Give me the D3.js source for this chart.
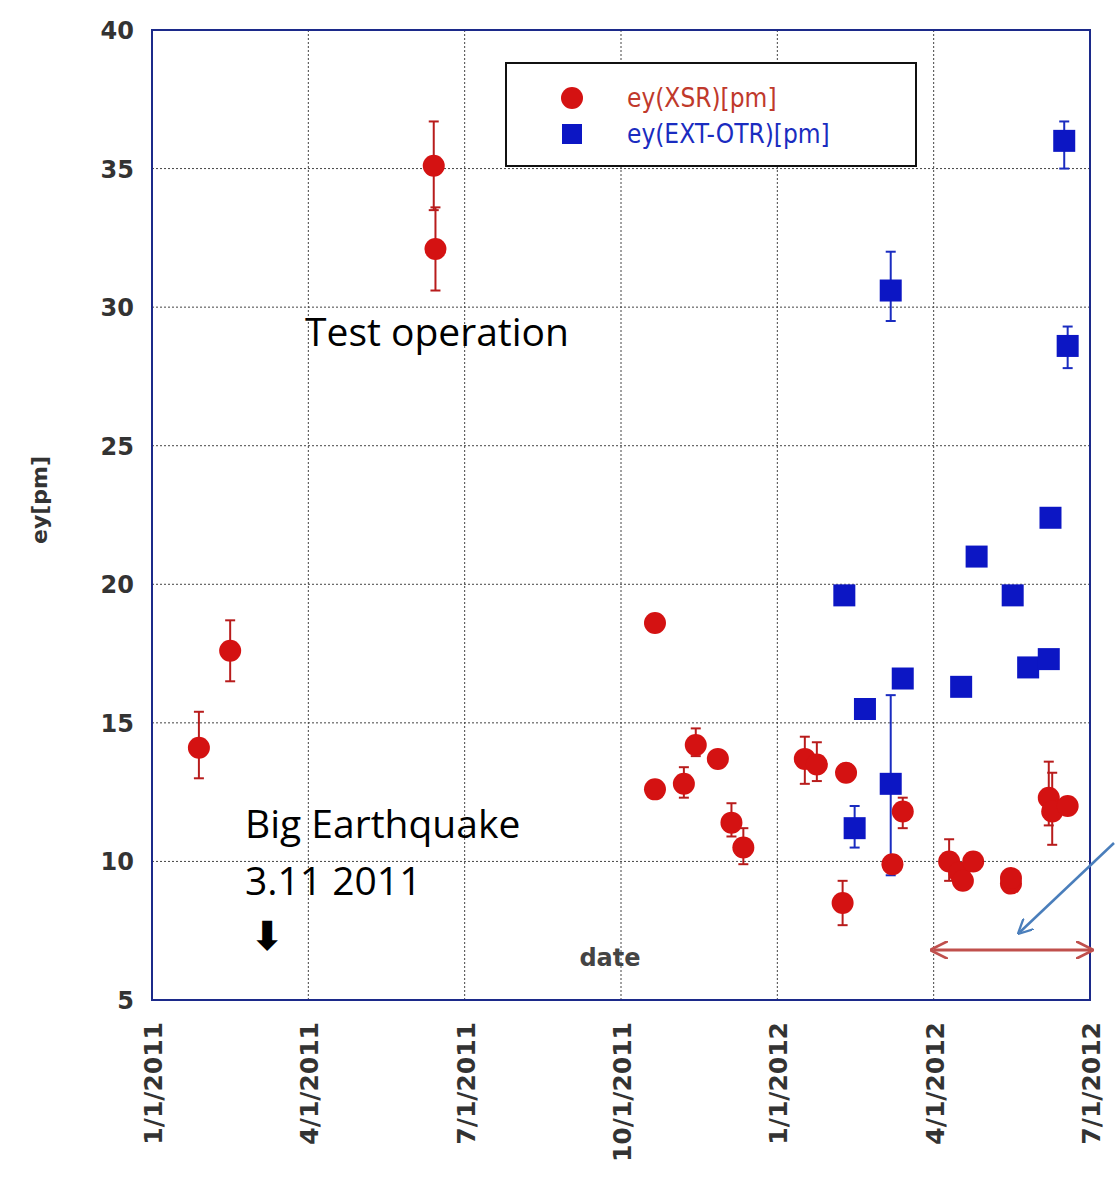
<!DOCTYPE html>
<html><head><meta charset="utf-8">
<script src="https://cdn.jsdelivr.net/npm/d3@7"></script>
<style>body{margin:0;background:#fff}</style>
</head><body>
<svg id="c" width="1115" height="1203"></svg>
<script>
// XSR (red) : date, value, err low, err high
var xsrDates = ["2011-01-28","2011-02-15","2011-06-13","2011-06-14","2011-10-21","2011-10-21","2011-11-07","2011-11-14","2011-11-27","2011-12-05","2011-12-12","2012-01-17","2012-01-24","2012-02-08","2012-02-10","2012-03-08","2012-03-14","2012-04-10","2012-04-16","2012-04-18","2012-04-24","2012-05-16","2012-05-16","2012-06-07","2012-06-09","2012-06-18"]
var xsrVals  = [14.1,17.6,35.1,32.1,18.6,12.6,12.8,14.2,13.7,11.4,10.5,13.7,13.5,8.5,13.2,9.9,11.8,10.0,9.6,9.3,10.0,9.2,9.4,12.3,11.8,12.0]
var xsrLo    = [13.0,16.5,33.5,30.6,18.6,12.6,12.3,13.8,13.7,10.9,9.9,12.8,12.9,7.7,13.2,9.9,11.2,9.3,9.6,9.3,10.0,9.2,9.4,11.3,10.6,12.0]
var xsrHi    = [15.4,18.7,36.7,33.6,18.6,12.6,13.4,14.8,13.7,12.1,11.2,14.5,14.3,9.3,13.2,9.9,12.3,10.8,9.6,9.3,10.0,9.2,9.4,13.6,13.2,12.0]
// EXT-OTR (blue)
var otrDates = ["2012-02-09","2012-02-15","2012-02-21","2012-03-07","2012-03-07","2012-03-14","2012-04-17","2012-04-26","2012-05-17","2012-05-26","2012-06-07","2012-06-08","2012-06-18","2012-06-16"]
var otrVals  = [19.6,11.2,15.5,30.6,12.8,16.6,16.3,21.0,19.6,17.0,17.3,22.4,28.6,36.0]
var otrLo    = [19.6,10.5,15.5,29.5,9.5,16.6,16.3,21.0,19.6,17.0,17.3,22.4,27.8,35.0]
var otrHi    = [19.6,12.0,15.5,32.0,16.0,16.6,16.3,21.0,19.6,17.0,17.3,22.4,29.3,36.7]
var yTicks = [5,10,15,20,25,30,35,40]
var xTicks = ["2011-01-01","2011-04-01","2011-07-01","2011-10-01","2012-01-01","2012-04-01","2012-07-01"]
var xTickLabels = ["1/1/2011","4/1/2011","7/1/2011","10/1/2011","1/1/2012","4/1/2012","7/1/2012"]

var pd = d3.utcParse("%Y-%m-%d")
var svg = d3.select("#c")
var L = 152, R = 1090, T = 30, B = 1000
// quarters are drawn evenly spaced in the original, so use a piecewise time scale
var x = d3.scaleUtc().domain(xTicks.map(pd)).range(xTicks.map(function(d,i){return L + i*(R-L)/6}))
var y = d3.scaleLinear().domain([5,40]).range([B,T])

var g = svg.append("g")
g.selectAll(".gy").data(yTicks).enter().append("line")
 .attr("x1",L).attr("x2",R).attr("y1",y).attr("y2",y)
 .attr("stroke","#444").attr("stroke-dasharray","2,2").attr("stroke-width",1)
g.selectAll(".gx").data(xTicks).enter().append("line")
 .attr("y1",T).attr("y2",B).attr("x1",function(d){return x(pd(d))}).attr("x2",function(d){return x(pd(d))})
 .attr("stroke","#444").attr("stroke-dasharray","2,2").attr("stroke-width",1)
svg.append("rect").attr("x",L).attr("y",T).attr("width",R-L).attr("height",B-T)
 .attr("fill","none").attr("stroke","#1c2a8a").attr("stroke-width",2)

svg.selectAll(".yl").data(yTicks).enter().append("text")
 .attr("x",L-18).attr("y",function(d){return y(d)+9}).attr("text-anchor","end")
 .attr("font-family","DejaVu Sans").attr("font-weight","bold").attr("font-size",24).attr("fill","#333")
 .text(function(d){return d})
svg.selectAll(".xl").data(xTicks).enter().append("text")
 .attr("transform",function(d){return "translate("+(x(pd(d))+10)+",1022) rotate(-90)"})
 .attr("text-anchor","end")
 .attr("font-family","DejaVu Sans").attr("font-weight","bold").attr("font-size",25).attr("fill","#333")
 .text(function(d,i){return xTickLabels[i]})
svg.append("text").attr("transform","translate(47,500) rotate(-90)").attr("text-anchor","middle")
 .attr("font-family","DejaVu Sans").attr("font-weight","bold").attr("font-size",22).attr("fill","#333").text("ey[pm]")
svg.append("text").attr("x",610).attr("y",966).attr("text-anchor","middle")
 .attr("font-family","DejaVu Sans").attr("font-weight","bold").attr("font-size",24).attr("fill","#444").text("date")

function errs(dates, lo, hi, col){
  var e = svg.append("g").attr("stroke",col).attr("stroke-width",2)
  dates.forEach(function(d,i){
    if (hi[i]-lo[i] < 0.05) return
    var cx = x(pd(d))
    e.append("line").attr("x1",cx).attr("x2",cx).attr("y1",y(lo[i])).attr("y2",y(hi[i]))
    e.append("line").attr("x1",cx-5).attr("x2",cx+5).attr("y1",y(lo[i])).attr("y2",y(lo[i]))
    e.append("line").attr("x1",cx-5).attr("x2",cx+5).attr("y1",y(hi[i])).attr("y2",y(hi[i]))
  })
}
errs(xsrDates,xsrLo,xsrHi,"#b81c1c")
errs(otrDates,otrLo,otrHi,"#1a2cc0")
svg.selectAll(".r").data(xsrDates).enter().append("circle")
 .attr("cx",function(d){return x(pd(d))}).attr("cy",function(d,i){return y(xsrVals[i])})
 .attr("r",11).attr("fill","#d41212")
svg.selectAll(".b").data(otrDates).enter().append("rect")
 .attr("x",function(d){return x(pd(d))-11}).attr("y",function(d,i){return y(otrVals[i])-11})
 .attr("width",22).attr("height",22).attr("fill","#0c16c4")

// legend
svg.append("rect").attr("x",506).attr("y",63).attr("width",410).attr("height",103).attr("fill","#fff").attr("stroke","#111").attr("stroke-width",2)
svg.append("circle").attr("cx",572).attr("cy",98).attr("r",11).attr("fill","#d41212")
svg.append("rect").attr("x",562).attr("y",124).attr("width",20).attr("height",20).attr("fill","#0c16c4")
svg.append("text").attr("x",627).attr("y",107).attr("font-family","DejaVu Sans Condensed").attr("font-size",26).attr("fill","#c0392b").text("ey(XSR)[pm]")
svg.append("text").attr("x",627).attr("y",143).attr("font-family","DejaVu Sans Condensed").attr("font-size",26).attr("fill","#1a2cc0").text("ey(EXT-OTR)[pm]")

// annotations
function ann(t,xx,yy){svg.append("text").attr("x",xx).attr("y",yy).attr("font-family","Open Sans").attr("font-size",39).attr("fill","#000").text(t)}
ann("Test operation",305,346)
ann("Big Earthquake",245,838)
ann("3.11 2011",245,895)
svg.append("text").attr("x",267).attr("y",950).attr("text-anchor","middle").attr("font-family","DejaVu Sans").attr("font-weight","bold").attr("font-size",40).text("\u2B07")
var defs = svg.append("defs")
defs.append("marker").attr("id","ra").attr("viewBox","0 0 10 10").attr("refX",8).attr("refY",5).attr("markerWidth",6).attr("markerHeight",6).attr("orient","auto-start-reverse")
 .append("path").attr("d","M0,0L10,5L0,10").attr("fill","none").attr("stroke","#c0504d").attr("stroke-width",1.5)
defs.append("marker").attr("id","ba").attr("viewBox","0 0 10 10").attr("refX",8).attr("refY",5).attr("markerWidth",6).attr("markerHeight",6).attr("orient","auto")
 .append("path").attr("d","M0,0L10,5L0,10").attr("fill","none").attr("stroke","#4a7ebb").attr("stroke-width",1.5)
svg.append("line").attr("x1",x(pd("2012-04-01"))).attr("x2",x(pd("2012-07-01"))).attr("y1",950).attr("y2",950)
 .attr("stroke","#c0504d").attr("stroke-width",3).attr("marker-start","url(#ra)").attr("marker-end","url(#ra)")
svg.append("line").attr("x1",1114).attr("y1",843).attr("x2",1020).attr("y2",932)
 .attr("stroke","#4a7ebb").attr("stroke-width",2.5).attr("marker-end","url(#ba)")
</script>
</body></html>
